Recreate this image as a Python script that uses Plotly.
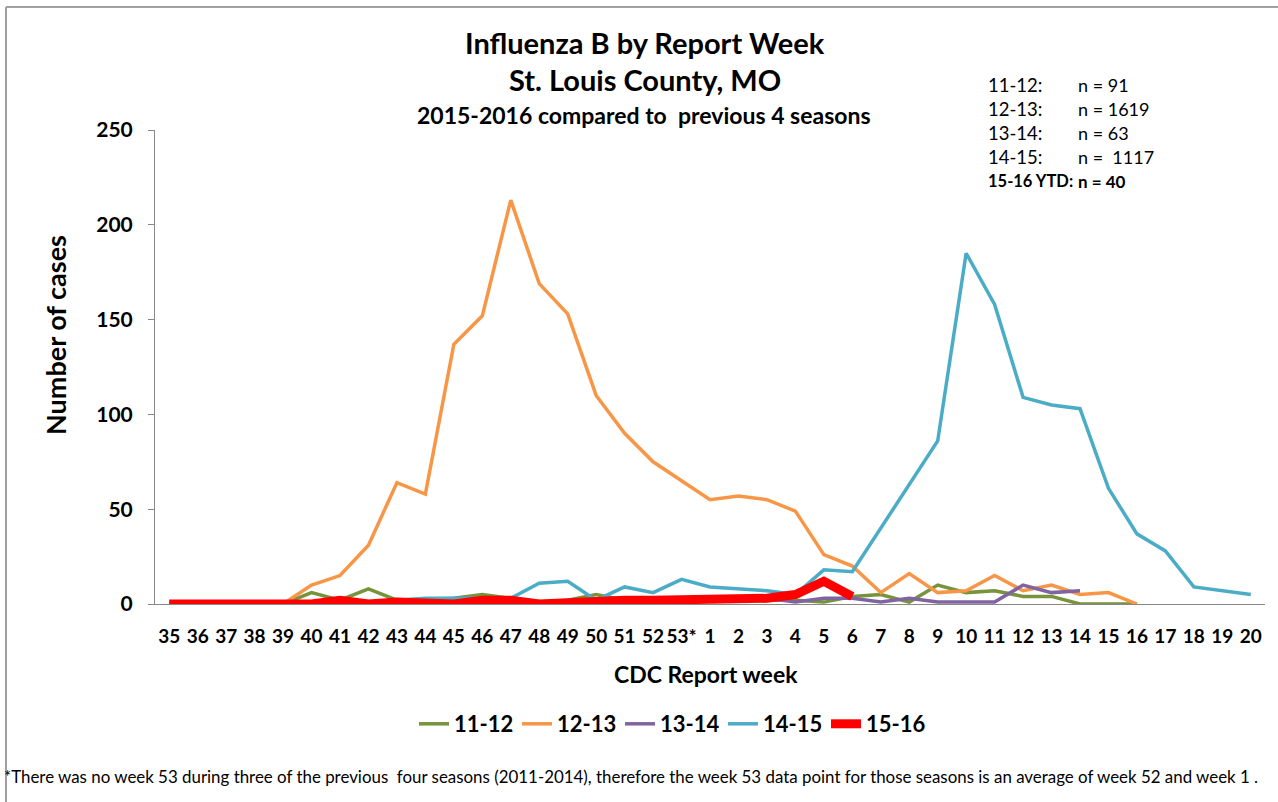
import plotly.graph_objects as go

weeks = [str(w) for w in range(35, 53)] + ["53*"] + [str(w) for w in range(1, 21)]
N = None
s1112 = [0, 0, 0, 0, 0, 6, 2, 8, 2, 2, 3, 5, 3, 1, 2, 5, 2, 3, 3, 3, 2, 2, 2, 1, 4, 5, 1, 10, 6, 7, 4, 4, 0, 0, 0, N, N, N, N]
s1213 = [0, 0, 0, 0, 0, 10, 15, 31, 64, 58, 137, 152, 213, 169, 153, 110, 90, 75, 65, 55, 57, 55, 49, 26, 20, 6, 16, 6, 7, 15, 7, 10, 5, 6, 0, N, N, N, N]
s1314 = [0] * 13 + [1, 1, 2, 3, 3, 3, 3, 3, 3, 1, 3, 3, 1, 3, 1, 1, 1, 10, 6, 7, N, N, N, N, N, N]
s1415 = [0] * 8 + [2, 3, 3, 3, 3, 11, 12, 2, 9, 6, 13, 9, 8, 7, 5, 18, 17, 40, 63, 86, 185, 158, 109, 105, 103, 61, 37, 28, 9, 7, 5]
s1516 = [0] * 6 + [2, 0, 1, 0, 0, 2, 2, 0, 1, 1, 2, 2, 2, 2, 2, 3, 5, 12, 4] + [N] * 14

series = [
    ("11-12", s1112, "#77933C", 3.5),
    ("12-13", s1213, "#F79646", 3.5),
    ("13-14", s1314, "#8064A2", 3.5),
    ("14-15", s1415, "#4BACC6", 3.5),
    ("15-16", s1516, "#FF0000", 9),
]

counts_labels = ["11-12:", "12-13:", "13-14:", "14-15:", "<b>15-16 YTD:</b>"]
counts_values = ["n = 91", "n = 1619", "n = 63", "n =  1117", "<b>n = 40</b>"]

FONT = "Lato, Liberation Sans, sans-serif"
L, R, T, B = 155, 1265, 130, 604
W, H = 1278, 802


def px2x(px):
    return (px - L) / (R - L)


def py2y(py):
    return (B - py) / (B - T)


fig = go.Figure()
for name, vals, color, w in series:
    fig.add_trace(go.Scatter(
        x=weeks, y=vals, name=name, mode="lines",
        line=dict(color=color, width=w), connectgaps=False,
    ))

ann = []
ann.append(dict(text="<b>Influenza B by Report Week</b>", x=px2x(645), y=py2y(42), font=dict(size=29)))
ann.append(dict(text="<b>St. Louis County, MO</b>", x=px2x(645), y=py2y(79), font=dict(size=29)))
ann.append(dict(text="<b>2015-2016 compared to  previous 4 seasons</b>", x=px2x(644), y=py2y(115), font=dict(size=23)))
ann.append(dict(text="<b>Number of cases</b>", x=px2x(55), y=py2y(335), font=dict(size=27), textangle=-90))
ann.append(dict(text="<b>CDC Report week</b>", x=px2x(706), y=py2y(674), font=dict(size=23)))
ys = [85, 109, 133, 157, 181]
for i, (lab, val, yy) in enumerate(zip(counts_labels, counts_values, ys)):
    ann.append(dict(text=lab, x=px2x(986), y=py2y(yy), xanchor="left", font=dict(size=18.5 if i < 4 else 16.5)))
    ann.append(dict(text=val, x=px2x(1076), y=py2y(yy), xanchor="left", font=dict(size=18 if i < 4 else 17)))
ann.append(dict(
    text="*There was no week 53 during three of the previous  four seasons (2011-2014), therefore the week 53 data point for those seasons is an average of week 52 and week 1 .",
    x=px2x(2), y=py2y(776), xanchor="left", font=dict(size=16.9)))
for a in ann:
    a.setdefault("xanchor", "center")
    a.update(xref="paper", yref="paper", yanchor="middle", showarrow=False)
    a["font"].update(family=FONT, color="black")

shapes = [
    dict(type="line", xref="paper", yref="paper", x0=px2x(6), y0=py2y(7), x1=px2x(1278), y1=py2y(7),
         line=dict(color="#A0A0A0", width=2)),
    dict(type="line", xref="paper", yref="paper", x0=px2x(6), y0=py2y(7), x1=px2x(6), y1=py2y(802),
         line=dict(color="#A0A0A0", width=2)),
]

fig.update_layout(
    width=W, height=H,
    margin=dict(l=L, r=W - R, t=T, b=H - B, pad=0, autoexpand=False),
    paper_bgcolor="white", plot_bgcolor="white",
    font=dict(family=FONT, color="black"),
    annotations=ann, shapes=shapes,
    showlegend=True,
    legend=dict(orientation="h", x=px2x(414), xanchor="left", y=py2y(724), yanchor="middle",
                font=dict(size=22, family=FONT, color="black", weight="bold"),
                entrywidth=58, entrywidthmode="pixels", traceorder="normal"),
    xaxis=dict(type="category", range=[-0.5, 38.5], showline=True, linecolor="#888888", linewidth=1,
               showgrid=False, ticks="", tickfont=dict(size=19, family=FONT, weight="bold"),
               ticklabelstandoff=15, fixedrange=True),
    yaxis=dict(range=[0, 250], dtick=50, showline=True, linecolor="#888888", linewidth=1,
               showgrid=False, zeroline=False, ticks="outside", ticklen=6, tickcolor="#888888",
               tickfont=dict(size=21, family=FONT, weight="bold"), ticklabelstandoff=11),
)

fig.write_html("out.html", config={"displayModeBar": False},
               post_script="document.body.style.margin='0px';")
